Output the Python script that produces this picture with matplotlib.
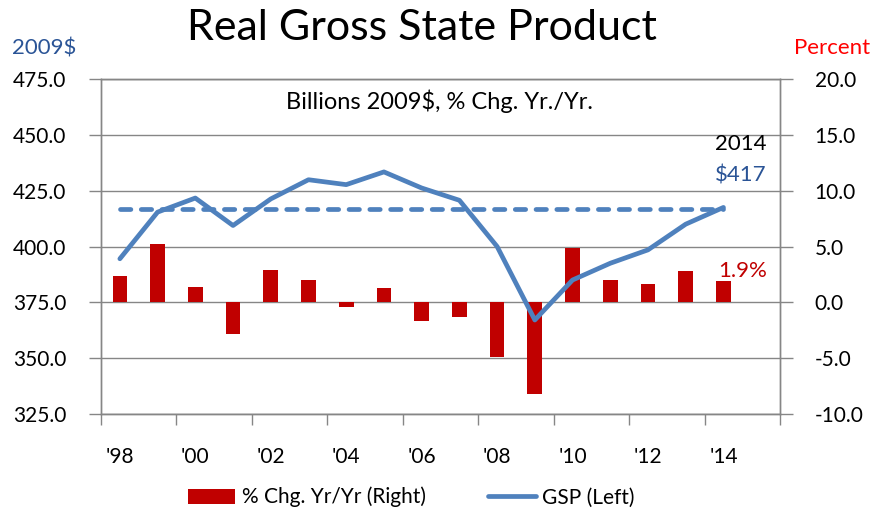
import matplotlib.pyplot as plt
import numpy as np

plt.rcParams['font.family'] = ['Lato', 'DejaVu Sans']

# data
years = list(range(1998, 2016))
gsp = [394.5, 415.4, 421.7, 409.4, 421.3, 429.9, 427.7, 433.4, 426.2, 420.7,
       400.0, 367.1, 385.0, 392.5, 398.5, 410.0, 417.5]
pct_chg = [2.4, 5.2, 1.4, -2.8, 2.9, 2.0, -0.4, 1.3, -1.7, -1.3,
           -4.9, -8.2, 4.9, 2.0, 1.6, 2.8, 1.9]
gsp_2014 = 417
tick_labels = ["'98", "'00", "'02", "'04", "'06", "'08", "'10", "'12", "'14"]

red = '#C00000'
blue = '#4F81BD'
navy = '#2A5496'
grey = '#868686'

fig = plt.figure(figsize=(8.73, 5.11), dpi=100)
ax2 = fig.add_axes([0.1157, 0.1898, 0.7778, 0.6556])
ax = ax2.twinx()
# line axis (left) drawn above bars
ax.set_zorder(ax2.get_zorder() + 1)
ax.patch.set_visible(False)

x = np.arange(len(pct_chg))
ax2.bar(x, pct_chg, width=0.39, color=red, zorder=2, label='% Chg. Yr/Yr (Right)')
ax2.set_ylim(-10, 20)
ax2.set_yticks(np.arange(-10, 21, 5))
ax2.set_yticklabels(['%.1f' % v for v in np.arange(-10, 21, 5)])
ax2.yaxis.tick_right()
ax2.grid(axis='y', color=grey, linewidth=1)
ax2.set_axisbelow(True)

ax.plot(x, gsp, color=blue, linewidth=3.4, label='GSP (Left)', solid_capstyle='round')
ax.plot([x[0], x[-1]], [gsp_2014, gsp_2014], color=blue, linewidth=3.4,
        linestyle=(0, (2.2, 2.2)), dash_capstyle='round')
ax.set_ylim(325, 475)
ax.set_yticks(np.arange(325, 476, 25))
ax.set_yticklabels(['%.1f' % v for v in np.arange(325, 476, 25)])
ax.yaxis.tick_left()

ax2.set_xlim(-0.5, len(years) - 0.5)
ax2.set_xticks(np.arange(-0.5, len(years), 2))
ax2.set_xticklabels([])
ax2.set_xticks(np.arange(0, 17, 2), minor=True)
ax2.set_xticklabels(tick_labels, minor=True)
ax2.tick_params(axis='x', which='minor', length=0, pad=24, labelsize=15)
ax2.tick_params(axis='x', which='major', length=8, color=grey, width=1)

for a in (ax, ax2):
    a.tick_params(axis='y', length=9, color=grey, width=1, labelsize=15, pad=16)
    for s in a.spines.values():
        s.set_color(grey)
        s.set_linewidth(1)

fig.text(0.4834, 0.945, 'Real Gross State Product', ha='center', va='center', fontsize=31)
fig.text(0.014, 0.906, '2009$', ha='left', va='center', fontsize=16, color=navy)
fig.text(0.997, 0.906, 'Percent', ha='right', va='center', fontsize=16, color='#FF0000')
ax.text(0.498, 0.934, 'Billions 2009$, % Chg. Yr./Yr.', transform=ax.transAxes,
        ha='center', va='center', fontsize=17)
ax.text(17.15, 446.1, '2014', ha='right', va='center', fontsize=16)
ax.text(17.15, 431.6, '$%d' % gsp_2014, ha='right', va='center', fontsize=16, color=navy)
ax2.text(17.15, 2.8, '%.1f%%' % pct_chg[-1], ha='right', va='center', fontsize=16, color=red)

h1, l1 = ax2.get_legend_handles_labels()
h2, l2 = ax.get_legend_handles_labels()
fig.legend(h1 + h2, l1 + l2, loc='center', bbox_to_anchor=(0.471, 0.027), ncol=2,
           frameon=False, fontsize=15, handlelength=2.3, handleheight=0.72,
           handletextpad=0.3, columnspacing=3.0)

fig.savefig('out.png', dpi=100)
